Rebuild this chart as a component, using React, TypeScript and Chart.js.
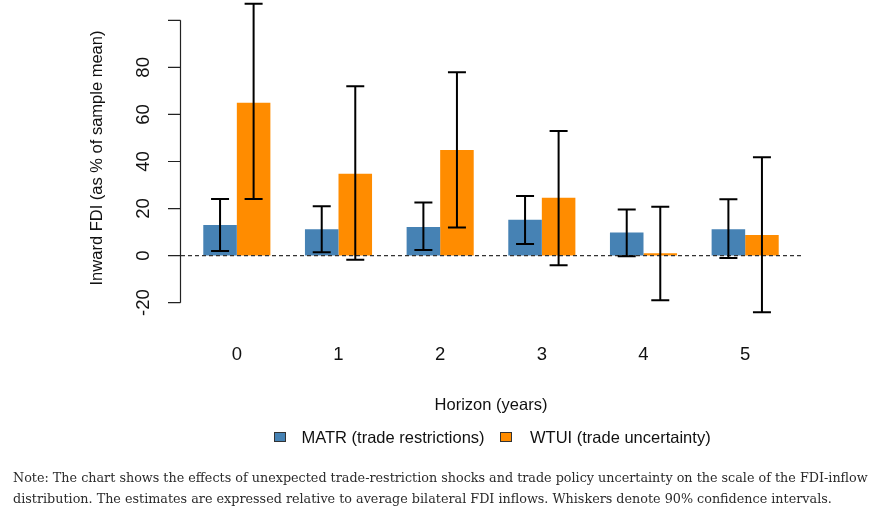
import React, { useEffect, useRef } from "react";
import { Chart, registerables } from "chart.js";

Chart.register(...registerables);

const categories = ["0", "1", "2", "3", "4", "5"];
const matrValues = [13, 11.2, 12.2, 15.2, 9.8, 11.2];
const matrLower = [2, 1.4, 2.4, 4.9, -0.3, -1.0];
const matrUpper = [24, 21, 22.6, 25.3, 19.6, 23.9];
const wtuiValues = [65, 34.8, 44.9, 24.6, 1.0, 8.7];
const wtuiLower = [24, -1.8, 11.9, -4.1, -19, -24.1];
const wtuiUpper = [107, 72, 77.9, 53, 20.8, 41.8];
const yTicks = [-20, 0, 20, 40, 60, 80, 100];
const yTickLabels = ["-20", "0", "20", "40", "60", "80", ""];

const seriesLabels = ["MATR (trade restrictions)", "WTUI (trade uncertainty)"];
const seriesColors = ["#4682B4", "#FF8C00"];

const SANS = '"Liberation Sans", Arial, sans-serif';

const customAxesPlugin = {
  id: "customAxes",
  afterDatasetsDraw(chart: any) {
    const ctx = chart.ctx;
    const y = chart.scales.y;
    const x = chart.scales.x;
    const area = chart.chartArea;
    ctx.save();

    // zero dashed line
    ctx.strokeStyle = "#333";
    ctx.lineWidth = 1.2;
    ctx.setLineDash([4, 3]);
    ctx.beginPath();
    const y0 = y.getPixelForValue(0);
    ctx.moveTo(181, y0);
    ctx.lineTo(area.right + 8, y0);
    ctx.stroke();
    ctx.setLineDash([]);

    // error bars
    const lowers = [matrLower, wtuiLower];
    const uppers = [matrUpper, wtuiUpper];
    ctx.strokeStyle = "#000";
    ctx.lineWidth = 2;
    for (let d = 0; d < 2; d++) {
      const meta = chart.getDatasetMeta(d);
      meta.data.forEach((bar: any, i: number) => {
        const cx = bar.x;
        const yl = y.getPixelForValue(lowers[d][i]);
        const yu = y.getPixelForValue(uppers[d][i]);
        ctx.beginPath();
        ctx.moveTo(cx, yl);
        ctx.lineTo(cx, yu);
        ctx.moveTo(cx - 9, yl);
        ctx.lineTo(cx + 9, yl);
        ctx.moveTo(cx - 9, yu);
        ctx.lineTo(cx + 9, yu);
        ctx.stroke();
      });
    }

    // y axis
    const axX = 180.5;
    ctx.strokeStyle = "#222";
    ctx.lineWidth = 1.2;
    ctx.beginPath();
    ctx.moveTo(axX, y.getPixelForValue(yTicks[0]));
    ctx.lineTo(axX, y.getPixelForValue(yTicks[yTicks.length - 1]));
    yTicks.forEach((t) => {
      const py = y.getPixelForValue(t);
      ctx.moveTo(axX, py);
      ctx.lineTo(168, py);
    });
    ctx.stroke();

    ctx.fillStyle = "#111";
    ctx.font = `18.5px ${SANS}`;
    ctx.textAlign = "center";
    ctx.textBaseline = "middle";
    yTicks.forEach((t, i) => {
      const py = y.getPixelForValue(t);
      ctx.save();
      ctx.translate(144, py);
      ctx.rotate(-Math.PI / 2);
      ctx.fillText(yTickLabels[i], 0, 0);
      ctx.restore();
    });

    ctx.font = `16.5px ${SANS}`;
    ctx.save();
    ctx.translate(97, 158);
    ctx.rotate(-Math.PI / 2);
    ctx.fillText("Inward FDI (as % of sample mean)", 0, 0);
    ctx.restore();

    // x labels
    ctx.font = `18.5px ${SANS}`;
    categories.forEach((c, i) => {
      ctx.fillText(c, x.getPixelForValue(i), 355);
    });
    ctx.font = `16.5px ${SANS}`;
    ctx.fillText("Horizon (years)", (area.left + area.right) / 2, 405);

    // legend
    const legendItems = [
      { box: 274, text: 301.5 },
      { box: 500, text: 530 },
    ];
    ctx.textAlign = "left";
    legendItems.forEach((it, i) => {
      ctx.fillStyle = seriesColors[i];
      ctx.fillRect(it.box, 432, 12, 10);
      ctx.strokeStyle = "#333";
      ctx.lineWidth = 1;
      ctx.strokeRect(it.box + 0.5, 432.5, 11, 9);
      ctx.fillStyle = "#111";
      ctx.fillText(seriesLabels[i], it.text, 438);
    });
    ctx.restore();
  },
};

export default function App() {
  const ref = useRef<HTMLCanvasElement>(null);
  useEffect(() => {
    document.body.style.margin = "0";
    const chart = new Chart(ref.current as HTMLCanvasElement, {
      type: "bar",
      data: {
        labels: categories,
        datasets: [
          {
            label: seriesLabels[0],
            data: matrValues,
            backgroundColor: seriesColors[0],
            borderWidth: 0,
            categoryPercentage: 0.66,
            barPercentage: 1.0,
          },
          {
            label: seriesLabels[1],
            data: wtuiValues,
            backgroundColor: seriesColors[1],
            borderWidth: 0,
            categoryPercentage: 0.66,
            barPercentage: 1.0,
          },
        ],
      },
      options: {
        animation: false,
        responsive: false,
        maintainAspectRatio: false,
        layout: { padding: { left: 186, right: 85, top: 1.5, bottom: 197.25 } },
        scales: {
          x: { display: false, offset: true, grid: { display: false } },
          y: { display: false, min: -26, max: 108 },
        },
        plugins: { legend: { display: false }, tooltip: { enabled: false } },
      },
      plugins: [customAxesPlugin],
    });
    return () => chart.destroy();
  }, []);

  const noteStyle: React.CSSProperties = {
    position: "absolute",
    left: 13,
    fontFamily: '"DejaVu Serif", serif',
    fontSize: "12.75px",
    color: "#2a2a2a",
    whiteSpace: "nowrap",
    lineHeight: "21px",
  };

  return (
    <div style={{ position: "absolute", left: 0, top: 0, width: 881, height: 514, background: "#fff", overflow: "hidden" }}>
      <canvas ref={ref} width={881} height={514} style={{ position: "absolute", left: 0, top: 0, width: 881, height: 514 }} />
      <div style={{ ...noteStyle, top: 467 }}>
        Note: The chart shows the effects of unexpected trade-restriction shocks and trade policy uncertainty on the scale of the FDI-inflow
      </div>
      <div style={{ ...noteStyle, top: 488 }}>
        distribution. The estimates are expressed relative to average bilateral FDI inflows. Whiskers denote 90% confidence intervals.
      </div>
    </div>
  );
}
